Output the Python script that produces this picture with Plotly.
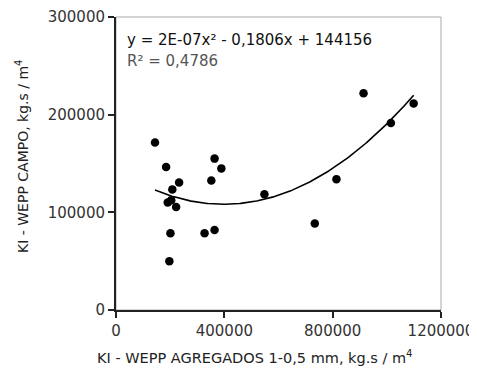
import numpy as np
import plotly.graph_objects as go

# Data
ki_agregados = [144000, 185000, 233000, 208000, 204000, 191000, 222000, 201000, 197000,
                327000, 364000, 352000, 364000, 389000, 548000, 734000, 814000,
                914000, 1015000, 1099000]
ki_campo = [171500, 146500, 130500, 123500, 112500, 110000, 105500, 78500, 50000,
            78500, 82000, 132500, 155000, 145000, 118500, 88500, 134000,
            222000, 191500, 211500]

# Polynomial trendline coefficients (2nd order), as displayed (a refined from curve)
trend_coef = [2.27e-07, -0.1806, 144156]

x_ticks = [0, 400000, 800000, 1200000]
y_ticks = [0, 100000, 200000, 300000]

eq_text = "y = 2E-07x² - 0,1806x + 144156"
r2_text = "R² = 0,4786"
x_title = "KI - WEPP AGREGADOS 1-0,5 mm, kg.s / m<sup>4</sup>"
y_title = "KI - WEPP CAMPO, kg.s / m<sup>4</sup>"

xt = np.linspace(min(ki_agregados), max(ki_agregados), 200)
yt = np.polyval(trend_coef, xt)

FONT = "DejaVu Sans"
# page body has an 8px default margin; target plot area is x 116..441, y 17..310
PX0, PY0, PW, PH = 116, 17, 325, 293

def px(x):
    return (x - PX0) / PW

def py(y):
    return (PY0 + PH - y) / PH

fig = go.Figure()
fig.add_trace(go.Scatter(x=xt, y=yt, mode="lines",
                         line=dict(color="black", width=1.6), showlegend=False,
                         hoverinfo="skip"))
fig.add_trace(go.Scatter(x=ki_agregados, y=ki_campo, mode="markers",
                         marker=dict(color="black", size=8.5, symbol="circle"),
                         showlegend=False))

fig.update_layout(
    width=469, height=366,
    margin=dict(l=PX0 - 8, r=469 - (PX0 + PW - 8), t=PY0 - 8, b=366 - (PY0 + PH - 8)),
    paper_bgcolor="white", plot_bgcolor="white",
    font=dict(family=FONT, size=13, color="#222"),
    xaxis=dict(range=[0, 1200000], tickvals=x_ticks,
               ticktext=[str(v) for v in x_ticks], automargin=False,
               showgrid=False, zeroline=False, showline=True,
               linecolor="#222", linewidth=2, ticks="outside",
               ticklen=6, tickwidth=2, tickcolor="#222",
               tickfont=dict(size=15, family=FONT, color="#333")),
    yaxis=dict(range=[0, 300000], tickvals=y_ticks,
               ticktext=[str(v) for v in y_ticks], automargin=False,
               showgrid=False, zeroline=False, showline=True,
               linecolor="#222", linewidth=2, ticks="outside",
               ticklen=6, tickwidth=2, tickcolor="#222",
               tickfont=dict(size=15, family=FONT, color="#333")),
    shapes=[dict(type="rect", xref="paper", yref="paper", x0=0, y0=0, x1=1, y1=1,
                 line=dict(color="#aaaaaa", width=1), layer="below")],
    annotations=[
        dict(text=eq_text, xref="paper", yref="paper", x=px(125), y=py(40),
             xanchor="left", yanchor="middle", showarrow=False,
             font=dict(size=15, family=FONT, color="#111")),
        dict(text=r2_text, xref="paper", yref="paper", x=px(125), y=py(61),
             xanchor="left", yanchor="middle", showarrow=False,
             font=dict(size=15, family=FONT, color="#555")),
        dict(text=x_title, xref="paper", yref="paper", x=px(255), y=py(357),
             xanchor="center", yanchor="middle", showarrow=False,
             font=dict(size=14.5, family=FONT, color="#222")),
        dict(text=y_title, xref="paper", yref="paper", x=px(22), y=py(157),
             xanchor="center", yanchor="middle", showarrow=False,
             textangle=-90, font=dict(size=14, family=FONT, color="#222")),
    ],
)

fig.write_html("out.html")
